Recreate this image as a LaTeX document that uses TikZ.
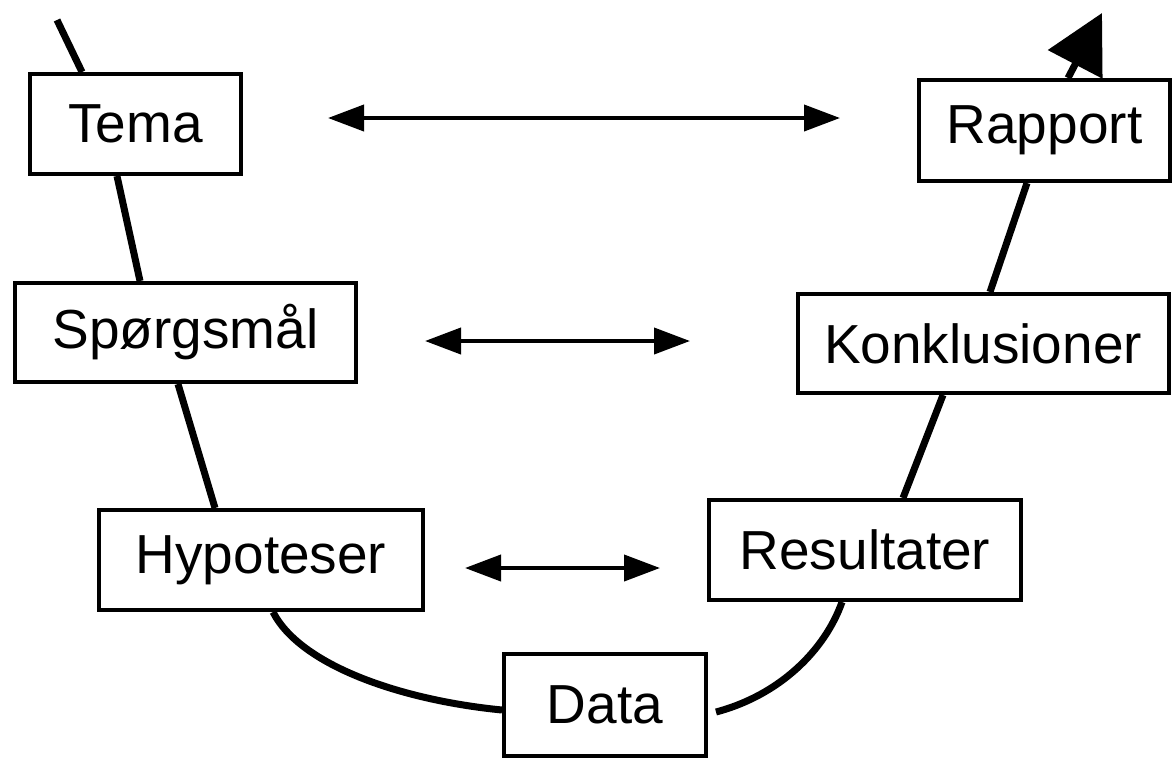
\documentclass[tikz,border=0pt]{standalone}
\usepackage{fontspec}
\setmainfont{Liberation Sans}
\usetikzlibrary{arrows.meta}
\begin{document}
\begin{tikzpicture}[x=1pt,y=-1pt,
  box/.style={draw,line width=4pt,fill=white,inner sep=0pt,font=\fontsize{55}{60}\selectfont},
  flow/.style={line width=7pt},
  link/.style={line width=4pt,{Triangle[length=36pt,width=26pt]}-{Triangle[length=36pt,width=26pt]}}]
\useasboundingbox (0,0) rectangle (1174,761);
\fill[white] (0,0) rectangle (1174,761);
\node[box,minimum width=211pt,minimum height=100pt] (tema) at (135.5,124) {Tema};
\node[box,minimum width=341pt,minimum height=99pt] (sporg) at (185.5,332.5) {Spørgsmål};
\node[box,minimum width=324pt,minimum height=100pt] (hyp) at (261,560) {Hypoteser};
\node[box,minimum width=202pt,minimum height=102pt] (data) at (605,705) {Data};
\node[box,minimum width=312pt,minimum height=100pt] (res) at (865,550) {Resultater};
\node[box,minimum width=371pt,minimum height=99pt] (konk) at (983,343.5) {Konklusioner};
\node[box,minimum width=251pt,minimum height=101pt] (rap) at (1044.5,130.5) {Rapport};
\coordinate (top) at (57,20);
\coordinate (tip) at (1102,13);
\draw[flow] (top) -- ([xshift=-53.5pt]tema.north);
\draw[flow] ([xshift=-18.5pt]tema.south) -- ([xshift=-45.5pt]sporg.north);
\draw[flow] ([xshift=-7.5pt]sporg.south) -- ([xshift=-46pt]hyp.north);
\draw[flow] ([xshift=12pt]hyp.south) .. controls +(27,53) and +(-102,-10) .. ([yshift=-5pt]data.west);
\draw[flow] ([xshift=8pt,yshift=-7pt]data.east) .. controls +(64,-17) and +(-17,48) .. ([xshift=-23pt]res.south);
\draw[flow] ([xshift=38pt]res.north) -- ([xshift=-40pt]konk.south);
\draw[flow] ([xshift=7pt]konk.north) -- ([xshift=-17.5pt]rap.south);
\draw[flow,-{Triangle[length=58pt,width=60pt]}] ([xshift=23.5pt]rap.north) -- (tip);
\coordinate (a1l) at (328,118);
\coordinate (a1r) at (840,118);
\coordinate (a2l) at (425,341);
\coordinate (a2r) at (690,341);
\coordinate (a3l) at (465,568);
\coordinate (a3r) at (660,568);
\draw[link] (a1l) -- (a1r);
\draw[link] (a2l) -- (a2r);
\draw[link] (a3l) -- (a3r);
\end{tikzpicture}
\end{document}
